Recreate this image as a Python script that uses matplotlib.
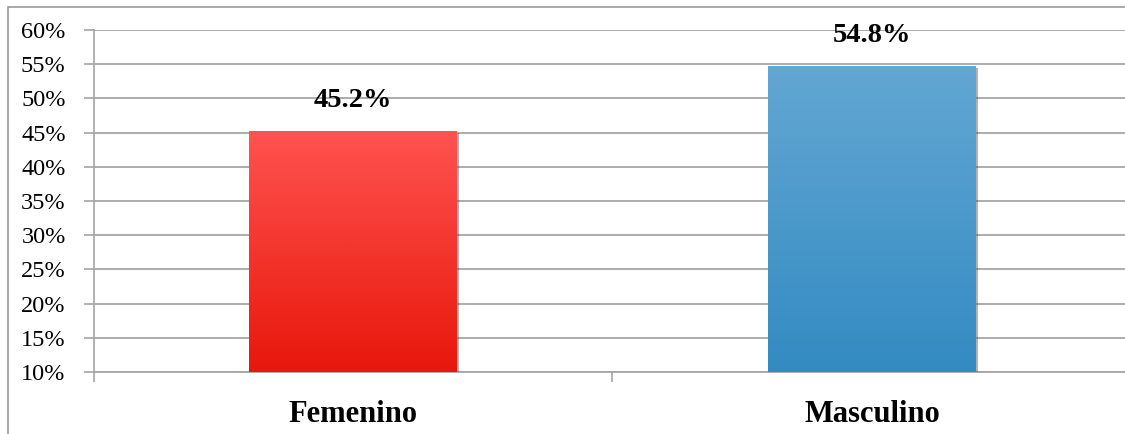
import numpy as np
import matplotlib.pyplot as plt
from matplotlib.patches import Rectangle
from matplotlib.colors import LinearSegmentedColormap
import matplotlib.patheffects as pe

plt.rcParams['font.family'] = ['Liberation Serif', 'DejaVu Serif']

# Data
categories = ['Femenino', 'Masculino']
values = [45.2, 54.8]
labels = ['45.2%', '54.8%']
yticks = [10, 15, 20, 25, 30, 35, 40, 45, 50, 55, 60]

# gradient colours (top, bottom)
grads = [('#ff5350', '#e8170b'), ('#63a7d3', '#338bc2')]

fig = plt.figure(figsize=(11.25, 4.34), dpi=100)
ax = fig.add_axes([93.5 / 1125, 1 - 372 / 434, 1038 / 1125, (372 - 30) / 434])

base = 10
x = np.arange(len(categories))
bars = ax.bar(x, np.array(values) - base, bottom=base, width=0.40,
              color='none', zorder=3,
              path_effects=[pe.SimplePatchShadow(offset=(1.5, -1.5), shadow_rgbFace='#555555', alpha=0.45),
                            pe.Normal()])

for b, (top, bot) in zip(bars, grads):
    cmap = LinearSegmentedColormap.from_list('g', [bot, top])
    grad = np.linspace(0, 1, 256).reshape(-1, 1)
    x0, y0 = b.get_x(), b.get_y()
    im = ax.imshow(grad, extent=[x0, x0 + b.get_width(), y0, y0 + b.get_height()],
                   origin='lower', cmap=cmap, aspect='auto', zorder=4)
    im.set_clip_path(b)

for xi, v, lab in zip(x, values, labels):
    ax.annotate(lab, (xi, v), xytext=(0, 13), textcoords='offset points',
                ha='center', va='bottom', fontsize=20.5, fontweight='bold', zorder=5)

ax.set_xlim(-0.5, 1.5)
ax.set_ylim(10, 60)
ax.set_yticks(yticks)
ax.set_yticklabels([f'{t}%' for t in yticks])
ax.yaxis.grid(True, color='#a6a6a6', linewidth=1.3, zorder=0)
ax.set_axisbelow(True)

ax.set_xticks(x)
ax.set_xticklabels(categories, fontsize=22, fontweight='bold')
ax.set_xticks([-0.5, 0.5, 1.5], minor=True)
ax.tick_params(axis='x', which='major', length=0, pad=20)
ax.tick_params(axis='x', which='minor', length=7, color='#a6a6a6', width=1.2)
ax.tick_params(axis='y', length=7, color='#a6a6a6', width=1.2, labelsize=17.5, pad=13)

for s in ['top', 'right']:
    ax.spines[s].set_visible(False)
ax.spines['left'].set_color('#a6a6a6')
ax.spines['bottom'].set_color('#a6a6a6')
ax.spines['left'].set_linewidth(1.2)
ax.spines['bottom'].set_linewidth(1.3)

# outer chart border (cut off at right and bottom)
fig.patches.append(Rectangle((8 / 1125, -0.1), 1.2, 1.1 - 7 / 434, transform=fig.transFigure,
                             fill=False, edgecolor='#999999', linewidth=1.2, zorder=0))

fig.savefig('out.png', dpi=100)
